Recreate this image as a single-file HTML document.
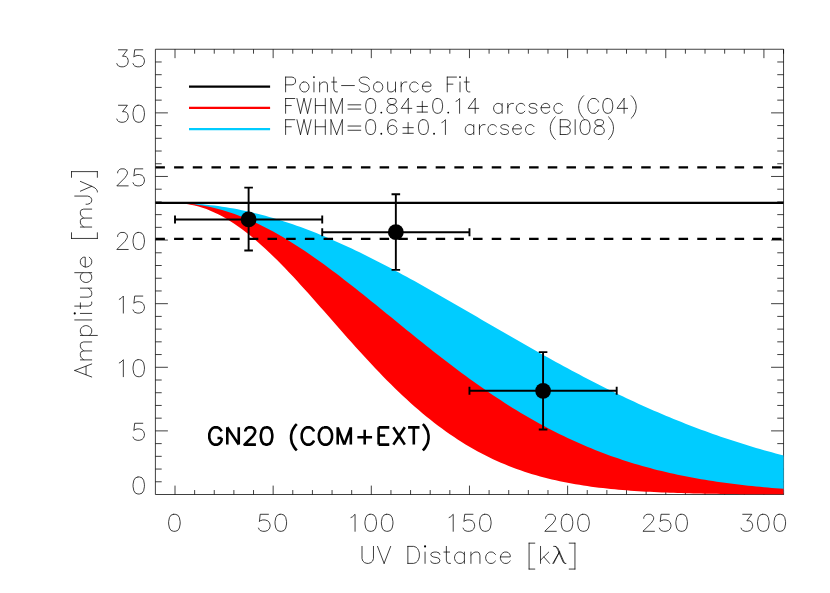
<!DOCTYPE html>
<html><head><meta charset="utf-8"><title>GN20 UV amplitude</title>
<style>html,body{margin:0;padding:0;background:#fff;font-family:"Liberation Sans",sans-serif}svg{display:block}</style></head>
<body>
<svg width="830" height="593" viewBox="0 0 830 593">
<rect width="830" height="593" fill="#fff"/>
<path d="M155.4 49.25H783.55V494.5H155.4ZM175 494.5v-8.9M175 49.25v8.9M194.63 494.5v-4.45M194.63 49.25v4.45M214.26 494.5v-4.45M214.26 49.25v4.45M233.89 494.5v-4.45M233.89 49.25v4.45M253.52 494.5v-4.45M253.52 49.25v4.45M273.15 494.5v-8.9M273.15 49.25v8.9M292.78 494.5v-4.45M292.78 49.25v4.45M312.41 494.5v-4.45M312.41 49.25v4.45M332.05 494.5v-4.45M332.05 49.25v4.45M351.68 494.5v-4.45M351.68 49.25v4.45M371.31 494.5v-8.9M371.31 49.25v8.9M390.94 494.5v-4.45M390.94 49.25v4.45M410.57 494.5v-4.45M410.57 49.25v4.45M430.2 494.5v-4.45M430.2 49.25v4.45M449.83 494.5v-4.45M449.83 49.25v4.45M469.46 494.5v-8.9M469.46 49.25v8.9M489.09 494.5v-4.45M489.09 49.25v4.45M508.72 494.5v-4.45M508.72 49.25v4.45M528.35 494.5v-4.45M528.35 49.25v4.45M547.98 494.5v-4.45M547.98 49.25v4.45M567.61 494.5v-8.9M567.61 49.25v8.9M587.24 494.5v-4.45M587.24 49.25v4.45M606.87 494.5v-4.45M606.87 49.25v4.45M626.5 494.5v-4.45M626.5 49.25v4.45M646.14 494.5v-4.45M646.14 49.25v4.45M665.77 494.5v-8.9M665.77 49.25v8.9M685.4 494.5v-4.45M685.4 49.25v4.45M705.03 494.5v-4.45M705.03 49.25v4.45M724.66 494.5v-4.45M724.66 49.25v4.45M744.29 494.5v-4.45M744.29 49.25v4.45M763.92 494.5v-8.9M763.92 49.25v8.9M783.55 494.5v-4.45M783.55 49.25v4.45M155.4 481.78h6.3M783.55 481.78h-6.3M155.4 469.06h6.3M783.55 469.06h-6.3M155.4 456.34h6.3M783.55 456.34h-6.3M155.4 443.61h6.3M783.55 443.61h-6.3M155.4 430.89h12.5M783.55 430.89h-12.5M155.4 418.17h6.3M783.55 418.17h-6.3M155.4 405.45h6.3M783.55 405.45h-6.3M155.4 392.73h6.3M783.55 392.73h-6.3M155.4 380.01h6.3M783.55 380.01h-6.3M155.4 367.29h12.5M783.55 367.29h-12.5M155.4 354.56h6.3M783.55 354.56h-6.3M155.4 341.84h6.3M783.55 341.84h-6.3M155.4 329.12h6.3M783.55 329.12h-6.3M155.4 316.4h6.3M783.55 316.4h-6.3M155.4 303.68h12.5M783.55 303.68h-12.5M155.4 290.96h6.3M783.55 290.96h-6.3M155.4 278.24h6.3M783.55 278.24h-6.3M155.4 265.51h6.3M783.55 265.51h-6.3M155.4 252.79h6.3M783.55 252.79h-6.3M155.4 240.07h12.5M783.55 240.07h-12.5M155.4 227.35h6.3M783.55 227.35h-6.3M155.4 214.63h6.3M783.55 214.63h-6.3M155.4 201.91h6.3M783.55 201.91h-6.3M155.4 189.19h6.3M783.55 189.19h-6.3M155.4 176.46h12.5M783.55 176.46h-12.5M155.4 163.74h6.3M783.55 163.74h-6.3M155.4 151.02h6.3M783.55 151.02h-6.3M155.4 138.3h6.3M783.55 138.3h-6.3M155.4 125.58h6.3M783.55 125.58h-6.3M155.4 112.86h12.5M783.55 112.86h-12.5M155.4 100.14h6.3M783.55 100.14h-6.3M155.4 87.41h6.3M783.55 87.41h-6.3M155.4 74.69h6.3M783.55 74.69h-6.3M155.4 61.97h6.3M783.55 61.97h-6.3" fill="none" stroke="#000" stroke-width="0.75" stroke-linecap="butt"/>
<path d="M175 203.18L178.93 203.2L182.85 203.28L186.78 203.4L190.7 203.57L194.63 203.79L198.56 204.06L202.48 204.37L206.41 204.74L210.34 205.15L214.26 205.61L218.19 206.11L222.11 206.67L226.04 207.27L229.97 207.92L233.89 208.61L237.82 209.35L241.74 210.14L245.67 210.97L249.6 211.85L253.52 212.77L257.45 213.73L261.37 214.74L265.3 215.79L269.23 216.89L273.15 218.02L277.08 219.2L281.01 220.42L284.93 221.68L288.86 222.97L292.78 224.31L296.71 225.69L300.64 227.1L304.56 228.55L308.49 230.04L312.41 231.56L316.34 233.12L320.27 234.71L324.19 236.33L328.12 237.99L332.05 239.68L335.97 241.4L339.9 243.15L343.82 244.93L347.75 246.74L351.68 248.58L355.6 250.45L359.53 252.34L363.45 254.26L367.38 256.2L371.31 258.16L375.23 260.15L379.16 262.16L383.08 264.2L387.01 266.25L390.94 268.32L394.86 270.41L398.79 272.52L402.72 274.65L406.64 276.79L410.57 278.94L414.49 281.12L418.42 283.3L422.35 285.5L426.27 287.71L430.2 289.93L434.12 292.16L438.05 294.4L441.98 296.64L445.9 298.9L449.83 301.16L453.76 303.43L457.68 305.7L461.61 307.98L465.53 310.26L469.46 312.54L473.39 314.82L477.31 317.11L481.24 319.4L485.16 321.68L489.09 323.96L493.02 326.25L496.94 328.53L500.87 330.8L504.79 333.07L508.72 335.34L512.65 337.6L516.57 339.85L520.5 342.1L524.43 344.34L528.35 346.57L532.28 348.8L536.2 351.01L540.13 353.22L544.06 355.41L547.98 357.59L551.91 359.76L555.83 361.92L559.76 364.07L563.69 366.2L567.61 368.32L571.54 370.42L575.47 372.51L579.39 374.59L583.32 376.64L587.24 378.69L591.17 380.71L595.1 382.72L599.02 384.72L602.95 386.69L606.87 388.65L610.8 390.59L614.73 392.51L618.65 394.41L622.58 396.29L626.5 398.16L630.43 400L634.36 401.83L638.28 403.63L642.21 405.42L646.14 407.18L650.06 408.92L653.99 410.64L657.91 412.35L661.84 414.03L665.77 415.69L669.69 417.32L673.62 418.94L677.54 420.53L681.47 422.11L685.4 423.66L689.32 425.19L693.25 426.7L697.18 428.19L701.1 429.65L705.03 431.09L708.95 432.52L712.88 433.92L716.81 435.29L720.73 436.65L724.66 437.98L728.58 439.3L732.51 440.59L736.44 441.86L740.36 443.11L744.29 444.34L748.21 445.54L752.14 446.73L756.07 447.89L759.99 449.04L763.92 450.16L767.85 451.26L771.77 452.35L775.7 453.41L779.62 454.45L783.55 455.47L783.55 493.5L779.62 493.42L775.7 493.34L771.77 493.26L767.85 493.16L763.92 493.07L759.99 492.96L756.07 492.85L752.14 492.73L748.21 492.6L744.29 492.47L740.36 492.32L736.44 492.17L732.51 492.01L728.58 491.84L724.66 491.65L720.73 491.46L716.81 491.25L712.88 491.04L708.95 490.81L705.03 490.56L701.1 490.3L697.18 490.03L693.25 489.74L689.32 489.44L685.4 489.12L681.47 488.78L677.54 488.42L673.62 488.04L669.69 487.64L665.77 487.22L661.84 486.78L657.91 486.32L653.99 485.83L650.06 485.32L646.14 484.78L642.21 484.22L638.28 483.63L634.36 483.01L630.43 482.36L626.5 481.68L622.58 480.96L618.65 480.22L614.73 479.44L610.8 478.62L606.87 477.77L602.95 476.88L599.02 475.96L595.1 474.99L591.17 473.99L587.24 472.94L583.32 471.85L579.39 470.71L575.47 469.53L571.54 468.31L567.61 467.03L563.69 465.71L559.76 464.34L555.83 462.92L551.91 461.45L547.98 459.92L544.06 458.34L540.13 456.71L536.2 455.02L532.28 453.28L528.35 451.48L524.43 449.62L520.5 447.71L516.57 445.73L512.65 443.7L508.72 441.61L504.79 439.45L500.87 437.24L496.94 434.96L493.02 432.63L489.09 430.23L485.16 427.77L481.24 425.25L477.31 422.67L473.39 420.03L469.46 417.32L465.53 414.56L461.61 411.74L457.68 408.85L453.76 405.91L449.83 402.91L445.9 399.86L441.98 396.74L438.05 393.58L434.12 390.36L430.2 387.08L426.27 383.76L422.35 380.39L418.42 376.97L414.49 373.51L410.57 370L406.64 366.45L402.72 362.87L398.79 359.24L394.86 355.58L390.94 351.89L387.01 348.18L383.08 344.43L379.16 340.66L375.23 336.88L371.31 333.07L367.38 329.25L363.45 325.43L359.53 321.59L355.6 317.75L351.68 313.91L347.75 310.07L343.82 306.25L339.9 302.43L335.97 298.63L332.05 294.85L328.12 291.09L324.19 287.35L320.27 283.65L316.34 279.99L312.41 276.36L308.49 272.77L304.56 269.24L300.64 265.75L296.71 262.33L292.78 258.96L288.86 255.65L284.93 252.42L281.01 249.25L277.08 246.16L273.15 243.15L269.23 240.23L265.3 237.39L261.37 234.64L257.45 231.99L253.52 229.44L249.6 226.98L245.67 224.64L241.74 222.4L237.82 220.27L233.89 218.25L229.97 216.36L226.04 214.58L222.11 212.92L218.19 211.39L214.26 209.98L210.34 208.7L206.41 207.55L202.48 206.53L198.56 205.65L194.63 204.89L190.7 204.28L186.78 203.8L182.85 203.45L178.93 203.25L175 203.18Z" fill="#00ccff"/>
<path d="M175 203.18L178.93 203.23L182.85 203.37L186.78 203.61L190.7 203.94L194.63 204.37L198.56 204.89L202.48 205.51L206.41 206.22L210.34 207.02L214.26 207.92L218.19 208.9L222.11 209.98L226.04 211.14L229.97 212.39L233.89 213.73L237.82 215.16L241.74 216.66L245.67 218.25L249.6 219.93L253.52 221.68L257.45 223.5L261.37 225.41L265.3 227.39L269.23 229.44L273.15 231.56L277.08 233.75L281.01 236.01L284.93 238.33L288.86 240.71L292.78 243.15L296.71 245.66L300.64 248.21L304.56 250.82L308.49 253.49L312.41 256.2L316.34 258.96L320.27 261.76L324.19 264.61L328.12 267.49L332.05 270.41L335.97 273.37L339.9 276.36L343.82 279.38L347.75 282.43L351.68 285.5L355.6 288.59L359.53 291.71L363.45 294.85L367.38 298L371.31 301.16L375.23 304.34L379.16 307.52L383.08 310.71L387.01 313.91L390.94 317.11L394.86 320.31L398.79 323.51L402.72 326.7L406.64 329.89L410.57 333.07L414.49 336.24L418.42 339.4L422.35 342.55L426.27 345.68L430.2 348.8L434.12 351.89L438.05 354.97L441.98 358.03L445.9 361.06L449.83 364.07L453.76 367.05L457.68 370L461.61 372.93L465.53 375.82L469.46 378.69L473.39 381.52L477.31 384.32L481.24 387.08L485.16 389.81L489.09 392.51L493.02 395.17L496.94 397.79L500.87 400.37L504.79 402.91L508.72 405.42L512.65 407.88L516.57 410.3L520.5 412.68L524.43 415.02L528.35 417.32L532.28 419.58L536.2 421.8L540.13 423.97L544.06 426.1L547.98 428.19L551.91 430.23L555.83 432.23L559.76 434.19L563.69 436.11L567.61 437.98L571.54 439.82L575.47 441.61L579.39 443.36L583.32 445.06L587.24 446.73L591.17 448.35L595.1 449.94L599.02 451.48L602.95 452.99L606.87 454.45L610.8 455.88L614.73 457.26L618.65 458.61L622.58 459.92L626.5 461.2L630.43 462.44L634.36 463.64L638.28 464.8L642.21 465.94L646.14 467.03L650.06 468.1L653.99 469.13L657.91 470.13L661.84 471.1L665.77 472.03L669.69 472.94L673.62 473.81L677.54 474.66L681.47 475.48L685.4 476.27L689.32 477.04L693.25 477.77L697.18 478.48L701.1 479.17L705.03 479.83L708.95 480.47L712.88 481.08L716.81 481.68L720.73 482.24L724.66 482.79L728.58 483.32L732.51 483.83L736.44 484.31L740.36 484.78L744.29 485.23L748.21 485.66L752.14 486.08L756.07 486.48L759.99 486.86L763.92 487.22L767.85 487.57L771.77 487.91L775.7 488.23L779.62 488.54L783.55 488.83L783.55 494.37L779.62 494.36L775.7 494.34L771.77 494.33L767.85 494.31L763.92 494.29L759.99 494.27L756.07 494.24L752.14 494.22L748.21 494.19L744.29 494.16L740.36 494.13L736.44 494.09L732.51 494.05L728.58 494.01L724.66 493.96L720.73 493.91L716.81 493.86L712.88 493.8L708.95 493.74L705.03 493.67L701.1 493.59L697.18 493.51L693.25 493.42L689.32 493.33L685.4 493.23L681.47 493.12L677.54 493L673.62 492.87L669.69 492.73L665.77 492.58L661.84 492.42L657.91 492.25L653.99 492.06L650.06 491.87L646.14 491.65L642.21 491.43L638.28 491.18L634.36 490.92L630.43 490.65L626.5 490.35L622.58 490.03L618.65 489.69L614.73 489.33L610.8 488.95L606.87 488.54L602.95 488.1L599.02 487.64L595.1 487.15L591.17 486.63L587.24 486.08L583.32 485.49L579.39 484.87L575.47 484.22L571.54 483.53L567.61 482.79L563.69 482.02L559.76 481.2L555.83 480.34L551.91 479.44L547.98 478.48L544.06 477.48L540.13 476.43L536.2 475.32L532.28 474.16L528.35 472.94L524.43 471.66L520.5 470.32L516.57 468.93L512.65 467.46L508.72 465.94L504.79 464.34L500.87 462.68L496.94 460.95L493.02 459.14L489.09 457.26L485.16 455.31L481.24 453.28L477.31 451.18L473.39 448.99L469.46 446.73L465.53 444.39L461.61 441.96L457.68 439.45L453.76 436.86L449.83 434.19L445.9 431.44L441.98 428.6L438.05 425.68L434.12 422.67L430.2 419.58L426.27 416.41L422.35 413.16L418.42 409.82L414.49 406.41L410.57 402.91L406.64 399.34L402.72 395.69L398.79 391.97L394.86 388.18L390.94 384.32L387.01 380.39L383.08 376.4L379.16 372.34L375.23 368.23L371.31 364.07L367.38 359.85L363.45 355.58L359.53 351.28L355.6 346.93L351.68 342.55L347.75 338.14L343.82 333.71L339.9 329.25L335.97 324.79L332.05 320.31L328.12 315.83L324.19 311.35L320.27 306.88L316.34 302.43L312.41 298L308.49 293.59L304.56 289.22L300.64 284.88L296.71 280.59L292.78 276.36L288.86 272.18L284.93 268.07L281.01 264.03L277.08 260.07L273.15 256.2L269.23 252.42L265.3 248.73L261.37 245.15L257.45 241.68L253.52 238.33L249.6 235.09L245.67 231.99L241.74 229.02L237.82 226.19L233.89 223.5L229.97 220.97L226.04 218.58L222.11 216.36L218.19 214.29L214.26 212.39L210.34 210.67L206.41 209.11L202.48 207.73L198.56 206.53L194.63 205.51L190.7 204.67L186.78 204.02L182.85 203.55L178.93 203.27L175 203.18Z" fill="#ff0000"/>
<path d="M155.4 202.92H783.55" stroke="#000" stroke-width="2.25" fill="none"/>
<path d="M155.4 167.43H783.55" stroke="#000" stroke-width="2.25" stroke-dasharray="9.5 9.185" fill="none"/>
<path d="M155.4 238.8H783.55" stroke="#000" stroke-width="2.25" stroke-dasharray="9.5 9.185" fill="none"/>
<path d="M175 219.46H322.23M175 215.46v8M322.23 215.46v8M248.61 250.5V187.66M244.31 250.5h8.6M244.31 187.66h8.6" stroke="#000" stroke-width="1.9" fill="none"/>
<circle cx="248.61" cy="219.46" r="7.9" fill="#000"/>
<path d="M322.23 232.18H469.46M322.23 228.18v8M469.46 228.18v8M395.84 269.84V194.27M391.54 269.84h8.6M391.54 194.27h8.6" stroke="#000" stroke-width="1.9" fill="none"/>
<circle cx="395.84" cy="232.18" r="7.9" fill="#000"/>
<path d="M469.46 390.82H616.69M469.46 386.82v8M616.69 386.82v8M543.07 429.49V352.15M538.77 429.49h8.6M538.77 352.15h8.6" stroke="#000" stroke-width="1.9" fill="none"/>
<circle cx="543.07" cy="390.82" r="7.9" fill="#000"/>
<path d="M189 86.6H270.1" stroke="#000" stroke-width="2.2" fill="none"/>
<path d="M189 107.9H270.1" stroke="#ff0000" stroke-width="2.2" fill="none"/>
<path d="M189 129.2H270.1" stroke="#00ccff" stroke-width="2.2" fill="none"/>
<path d="M285.6 77.09L285.6 91.9M285.6 77.09L291.98 77.09L294.11 77.8L294.82 78.51L295.53 79.92L295.53 82.03L294.82 83.44L294.11 84.15L291.98 84.85L285.6 84.85M303.33 82.03L301.91 82.74L300.49 84.15L299.78 86.26L299.78 87.67L300.49 89.79L301.91 91.2L303.33 91.9L305.45 91.9L306.87 91.2L308.29 89.79L309 87.67L309 86.26L308.29 84.15L306.87 82.74L305.45 82.03L303.33 82.03M313.96 82.03L313.96 91.9M319.63 82.03L319.63 91.9M319.63 84.85L321.76 82.74L323.18 82.03L325.3 82.03L326.72 82.74L327.43 84.85L327.43 91.9M333.81 77.09L333.81 89.08L334.52 91.2L335.94 91.9L337.36 91.9M331.69 82.03L336.65 82.03M341.61 85.56L354.37 85.56M369.26 79.21L367.84 77.8L365.72 77.09L362.88 77.09L360.75 77.8L359.34 79.21L359.34 80.62L360.05 82.03L360.75 82.74L362.17 83.44L366.43 84.85L367.84 85.56L368.55 86.26L369.26 87.67L369.26 89.79L367.84 91.2L365.72 91.9L362.88 91.9L360.75 91.2L359.34 89.79M377.06 82.03L375.64 82.74L374.23 84.15L373.52 86.26L373.52 87.67L374.23 89.79L375.64 91.2L377.06 91.9L379.19 91.9L380.61 91.2L382.02 89.79L382.73 87.67L382.73 86.26L382.02 84.15L380.61 82.74L379.19 82.03L377.06 82.03M387.7 82.03L387.7 89.08L388.41 91.2L389.82 91.9L391.95 91.9L393.37 91.2L395.5 89.08M395.5 82.03L395.5 91.9M401.17 82.03L401.17 91.9M401.17 86.26L401.88 84.15L403.29 82.74L404.71 82.03L406.84 82.03M418.18 84.15L416.76 82.74L415.35 82.03L413.22 82.03L411.8 82.74L410.38 84.15L409.68 86.26L409.68 87.67L410.38 89.79L411.8 91.2L413.22 91.9L415.35 91.9L416.76 91.2L418.18 89.79M422.44 86.26L430.95 86.26L430.95 84.85L430.24 83.44L429.53 82.74L428.11 82.03L425.98 82.03L424.56 82.74L423.15 84.15L422.44 86.26L422.44 87.67L423.15 89.79L424.56 91.2L425.98 91.9L428.11 91.9L429.53 91.2L430.95 89.79M447.25 77.09L447.25 91.9M447.25 77.09L456.47 77.09M447.25 84.15L452.92 84.15M460.01 82.03L460.01 91.9M466.39 77.09L466.39 89.08L467.1 91.2L468.52 91.9L469.94 91.9M464.27 82.03L469.23 82.03M285.6 98.5L285.6 113.3M285.6 98.5L294.82 98.5M285.6 105.55L291.27 105.55M296.94 98.5L300.49 113.3M304.03 98.5L300.49 113.3M304.03 98.5L307.58 113.3M311.12 98.5L307.58 113.3M315.38 98.5L315.38 113.3M325.3 98.5L325.3 113.3M315.38 105.55L325.3 105.55M330.98 98.5L330.98 113.3M330.98 98.5L336.65 113.3M342.32 98.5L336.65 113.3M342.32 98.5L342.32 113.3M347.99 104.84L360.75 104.84M347.99 109.07L360.75 109.07M369.97 98.5L367.84 99.2L366.43 101.31L365.72 104.84L365.72 106.95L366.43 110.48L367.84 112.59L369.97 113.3L371.39 113.3L373.52 112.59L374.93 110.48L375.64 106.95L375.64 104.84L374.93 101.31L373.52 99.2L371.39 98.5L369.97 98.5M390.53 98.5L388.41 99.2L387.7 100.61L387.7 102.02L388.41 103.43L389.82 104.13L392.66 104.84L394.79 105.55L396.2 106.95L396.91 108.36L396.91 110.48L396.2 111.89L395.5 112.59L393.37 113.3L390.53 113.3L388.41 112.59L387.7 111.89L386.99 110.48L386.99 108.36L387.7 106.95L389.11 105.55L391.24 104.84L394.08 104.13L395.5 103.43L396.2 102.02L396.2 100.61L395.5 99.2L393.37 98.5L390.53 98.5M408.26 98.5L401.17 108.36L411.8 108.36M408.26 98.5L408.26 113.3M422.3 101.31L422.3 112.1M417.12 106.46L427.47 106.46M417.12 112.1L427.47 112.1M436.9 98.5L434.77 99.2L433.36 101.31L432.65 104.84L432.65 106.95L433.36 110.48L434.77 112.59L436.9 113.3L438.32 113.3L440.45 112.59L441.86 110.48L442.57 106.95L442.57 104.84L441.86 101.31L440.45 99.2L438.32 98.5L436.9 98.5M456.04 101.31L457.46 100.61L459.59 98.5L459.59 113.3M475.19 98.5L468.1 108.36L478.73 108.36M475.19 98.5L475.19 113.3M502.13 103.43L502.13 113.3M502.13 105.55L500.71 104.13L499.29 103.43L497.17 103.43L495.75 104.13L494.33 105.55L493.62 107.66L493.62 109.07L494.33 111.19L495.75 112.59L497.17 113.3L499.29 113.3L500.71 112.59L502.13 111.19M507.8 103.43L507.8 113.3M507.8 107.66L508.51 105.55L509.93 104.13L511.35 103.43L513.47 103.43M524.82 105.55L523.4 104.13L521.98 103.43L519.85 103.43L518.44 104.13L517.02 105.55L516.31 107.66L516.31 109.07L517.02 111.19L518.44 112.59L519.85 113.3L521.98 113.3L523.4 112.59L524.82 111.19M536.87 105.55L536.16 104.13L534.03 103.43L531.91 103.43L529.78 104.13L529.07 105.55L529.78 106.95L531.2 107.66L534.74 108.36L536.16 109.07L536.87 110.48L536.87 111.19L536.16 112.59L534.03 113.3L531.91 113.3L529.78 112.59L529.07 111.19M541.12 107.66L549.63 107.66L549.63 106.25L548.92 104.84L548.21 104.13L546.8 103.43L544.67 103.43L543.25 104.13L541.83 105.55L541.12 107.66L541.12 109.07L541.83 111.19L543.25 112.59L544.67 113.3L546.8 113.3L548.21 112.59L549.63 111.19M562.39 105.55L560.98 104.13L559.56 103.43L557.43 103.43L556.01 104.13L554.59 105.55L553.89 107.66L553.89 109.07L554.59 111.19L556.01 112.59L557.43 113.3L559.56 113.3L560.98 112.59L562.39 111.19M583.66 95.67L582.25 97.08L580.83 99.2L579.41 102.02L578.7 105.55L578.7 108.36L579.41 111.89L580.83 114.71L582.25 116.83L583.66 118.23M598.55 102.02L597.84 100.61L596.43 99.2L595.01 98.5L592.17 98.5L590.75 99.2L589.34 100.61L588.63 102.02L587.92 104.13L587.92 107.66L588.63 109.77L589.34 111.19L590.75 112.59L592.17 113.3L595.01 113.3L596.43 112.59L597.84 111.19L598.55 109.77M607.06 98.5L604.93 99.2L603.52 101.31L602.81 104.84L602.81 106.95L603.52 110.48L604.93 112.59L607.06 113.3L608.48 113.3L610.61 112.59L612.02 110.48L612.73 106.95L612.73 104.84L612.02 101.31L610.61 99.2L608.48 98.5L607.06 98.5M624.08 98.5L616.99 108.36L627.62 108.36M624.08 98.5L624.08 113.3M631.17 95.67L632.58 97.08L634 99.2L635.42 102.02L636.13 105.55L636.13 108.36L635.42 111.89L634 114.71L632.58 116.83L631.17 118.23M285.6 119.69L285.6 134.5M285.6 119.69L294.82 119.69M285.6 126.75L291.27 126.75M296.94 119.69L300.49 134.5M304.03 119.69L300.49 134.5M304.03 119.69L307.58 134.5M311.12 119.69L307.58 134.5M315.38 119.69L315.38 134.5M325.3 119.69L325.3 134.5M315.38 126.75L325.3 126.75M330.98 119.69L330.98 134.5M330.98 119.69L336.65 134.5M342.32 119.69L336.65 134.5M342.32 119.69L342.32 134.5M347.99 126.04L360.75 126.04M347.99 130.27L360.75 130.27M369.97 119.69L367.84 120.4L366.43 122.52L365.72 126.04L365.72 128.16L366.43 131.68L367.84 133.79L369.97 134.5L371.39 134.5L373.52 133.79L374.93 131.68L375.64 128.16L375.64 126.04L374.93 122.52L373.52 120.4L371.39 119.69L369.97 119.69M396.2 121.81L395.5 120.4L393.37 119.69L391.95 119.69L389.82 120.4L388.41 122.52L387.7 126.04L387.7 129.56L388.41 132.38L389.82 133.79L391.95 134.5L392.66 134.5L394.79 133.79L396.2 132.38L396.91 130.27L396.91 129.56L396.2 127.45L394.79 126.04L392.66 125.34L391.95 125.34L389.82 126.04L388.41 127.45L387.7 129.56M408.12 122.52L408.12 133.3M402.94 127.66L413.29 127.66M402.94 133.3L413.29 133.3M422.72 119.69L420.59 120.4L419.18 122.52L418.47 126.04L418.47 128.16L419.18 131.68L420.59 133.79L422.72 134.5L424.14 134.5L426.27 133.79L427.68 131.68L428.39 128.16L428.39 126.04L427.68 122.52L426.27 120.4L424.14 119.69L422.72 119.69M441.86 122.52L443.28 121.81L445.41 119.69L445.41 134.5M473.77 124.63L473.77 134.5M473.77 126.75L472.35 125.34L470.93 124.63L468.81 124.63L467.39 125.34L465.97 126.75L465.26 128.86L465.26 130.27L465.97 132.38L467.39 133.79L468.81 134.5L470.93 134.5L472.35 133.79L473.77 132.38M479.44 124.63L479.44 134.5M479.44 128.86L480.15 126.75L481.57 125.34L482.99 124.63L485.11 124.63M496.46 126.75L495.04 125.34L493.62 124.63L491.49 124.63L490.08 125.34L488.66 126.75L487.95 128.86L487.95 130.27L488.66 132.38L490.08 133.79L491.49 134.5L493.62 134.5L495.04 133.79L496.46 132.38M508.51 126.75L507.8 125.34L505.67 124.63L503.55 124.63L501.42 125.34L500.71 126.75L501.42 128.16L502.84 128.86L506.38 129.56L507.8 130.27L508.51 131.68L508.51 132.38L507.8 133.79L505.67 134.5L503.55 134.5L501.42 133.79L500.71 132.38M512.76 128.86L521.27 128.86L521.27 127.45L520.56 126.04L519.85 125.34L518.44 124.63L516.31 124.63L514.89 125.34L513.47 126.75L512.76 128.86L512.76 130.27L513.47 132.38L514.89 133.79L516.31 134.5L518.44 134.5L519.85 133.79L521.27 132.38M534.03 126.75L532.62 125.34L531.2 124.63L529.07 124.63L527.65 125.34L526.23 126.75L525.53 128.86L525.53 130.27L526.23 132.38L527.65 133.79L529.07 134.5L531.2 134.5L532.62 133.79L534.03 132.38M555.3 116.88L553.89 118.28L552.47 120.4L551.05 123.22L550.34 126.75L550.34 129.56L551.05 133.09L552.47 135.91L553.89 138.03L555.3 139.44M560.27 119.69L560.27 134.5M560.27 119.69L566.65 119.69L568.77 120.4L569.48 121.11L570.19 122.52L570.19 123.92L569.48 125.34L568.77 126.04L566.65 126.75M560.27 126.75L566.65 126.75L568.77 127.45L569.48 128.16L570.19 129.56L570.19 131.68L569.48 133.09L568.77 133.79L566.65 134.5L560.27 134.5M575.16 119.69L575.16 134.5M584.37 119.69L582.25 120.4L580.83 122.52L580.12 126.04L580.12 128.16L580.83 131.68L582.25 133.79L584.37 134.5L585.79 134.5L587.92 133.79L589.34 131.68L590.04 128.16L590.04 126.04L589.34 122.52L587.92 120.4L585.79 119.69L584.37 119.69M597.84 119.69L595.72 120.4L595.01 121.81L595.01 123.22L595.72 124.63L597.13 125.34L599.97 126.04L602.1 126.75L603.52 128.16L604.22 129.56L604.22 131.68L603.52 133.09L602.81 133.79L600.68 134.5L597.84 134.5L595.72 133.79L595.01 133.09L594.3 131.68L594.3 129.56L595.01 128.16L596.43 126.75L598.55 126.04L601.39 125.34L602.81 124.63L603.52 123.22L603.52 121.81L602.81 120.4L600.68 119.69L597.84 119.69M608.48 116.88L609.9 118.28L611.31 120.4L612.73 123.22L613.44 126.75L613.44 129.56L612.73 133.09L611.31 135.91L609.9 138.03L608.48 139.44M173.58 514.29L171.11 515.1L169.46 517.53L168.64 521.58L168.64 524.01L169.46 528.06L171.11 530.49L173.58 531.3L175.22 531.3L177.69 530.49L179.34 528.06L180.16 524.01L180.16 521.58L179.34 517.53L177.69 515.1L175.22 514.29L173.58 514.29M268.44 514.29L260.2 514.29L259.38 521.58L260.2 520.77L262.67 519.96L265.14 519.96L267.61 520.77L269.26 522.39L270.08 524.82L270.08 526.44L269.26 528.87L267.61 530.49L265.14 531.3L262.67 531.3L260.2 530.49L259.38 529.68L258.55 528.06M279.96 514.29L277.49 515.1L275.85 517.53L275.02 521.58L275.02 524.01L275.85 528.06L277.49 530.49L279.96 531.3L281.61 531.3L284.08 530.49L285.73 528.06L286.55 524.01L286.55 521.58L285.73 517.53L284.08 515.1L281.61 514.29L279.96 514.29M350.94 517.53L352.59 516.72L355.06 514.29L355.06 531.3M369.88 514.29L367.41 515.1L365.77 517.53L364.94 521.58L364.94 524.01L365.77 528.06L367.41 530.49L369.88 531.3L371.53 531.3L374 530.49L375.65 528.06L376.47 524.01L376.47 521.58L375.65 517.53L374 515.1L371.53 514.29L369.88 514.29M386.35 514.29L383.88 515.1L382.24 517.53L381.41 521.58L381.41 524.01L382.24 528.06L383.88 530.49L386.35 531.3L388 531.3L390.47 530.49L392.12 528.06L392.94 524.01L392.94 521.58L392.12 517.53L390.47 515.1L388 514.29L386.35 514.29M449.1 517.53L450.74 516.72L453.21 514.29L453.21 531.3M472.98 514.29L464.74 514.29L463.92 521.58L464.74 520.77L467.21 519.96L469.68 519.96L472.15 520.77L473.8 522.39L474.62 524.82L474.62 526.44L473.8 528.87L472.15 530.49L469.68 531.3L467.21 531.3L464.74 530.49L463.92 529.68L463.1 528.06M484.51 514.29L482.04 515.1L480.39 517.53L479.57 521.58L479.57 524.01L480.39 528.06L482.04 530.49L484.51 531.3L486.15 531.3L488.62 530.49L490.27 528.06L491.09 524.01L491.09 521.58L490.27 517.53L488.62 515.1L486.15 514.29L484.51 514.29M545.6 518.34L545.6 517.53L546.43 515.91L547.25 515.1L548.9 514.29L552.19 514.29L553.84 515.1L554.66 515.91L555.48 517.53L555.48 519.15L554.66 520.77L553.01 523.2L544.78 531.3L556.31 531.3M566.19 514.29L563.72 515.1L562.07 517.53L561.25 521.58L561.25 524.01L562.07 528.06L563.72 530.49L566.19 531.3L567.84 531.3L570.31 530.49L571.95 528.06L572.78 524.01L572.78 521.58L571.95 517.53L570.31 515.1L567.84 514.29L566.19 514.29M582.66 514.29L580.19 515.1L578.54 517.53L577.72 521.58L577.72 524.01L578.54 528.06L580.19 530.49L582.66 531.3L584.31 531.3L586.78 530.49L588.42 528.06L589.25 524.01L589.25 521.58L588.42 517.53L586.78 515.1L584.31 514.29L582.66 514.29M643.76 518.34L643.76 517.53L644.58 515.91L645.4 515.1L647.05 514.29L650.34 514.29L651.99 515.1L652.81 515.91L653.64 517.53L653.64 519.15L652.81 520.77L651.17 523.2L642.93 531.3L654.46 531.3M669.28 514.29L661.05 514.29L660.23 521.58L661.05 520.77L663.52 519.96L665.99 519.96L668.46 520.77L670.11 522.39L670.93 524.82L670.93 526.44L670.11 528.87L668.46 530.49L665.99 531.3L663.52 531.3L661.05 530.49L660.23 529.68L659.4 528.06M680.81 514.29L678.34 515.1L676.7 517.53L675.87 521.58L675.87 524.01L676.7 528.06L678.34 530.49L680.81 531.3L682.46 531.3L684.93 530.49L686.58 528.06L687.4 524.01L687.4 521.58L686.58 517.53L684.93 515.1L682.46 514.29L680.81 514.29M742.73 514.29L751.79 514.29L746.85 520.77L749.32 520.77L750.97 521.58L751.79 522.39L752.61 524.82L752.61 526.44L751.79 528.87L750.14 530.49L747.67 531.3L745.2 531.3L742.73 530.49L741.91 529.68L741.08 528.06M762.5 514.29L760.03 515.1L758.38 517.53L757.55 521.58L757.55 524.01L758.38 528.06L760.03 530.49L762.5 531.3L764.14 531.3L766.61 530.49L768.26 528.06L769.08 524.01L769.08 521.58L768.26 517.53L766.61 515.1L764.14 514.29L762.5 514.29M778.97 514.29L776.5 515.1L774.85 517.53L774.02 521.58L774.02 524.01L774.85 528.06L776.5 530.49L778.97 531.3L780.61 531.3L783.08 530.49L784.73 528.06L785.55 524.01L785.55 521.58L784.73 517.53L783.08 515.1L780.61 514.29L778.97 514.29M137.93 476.99L135.5 477.8L133.87 480.23L133.06 484.28L133.06 486.71L133.87 490.76L135.5 493.19L137.93 494L139.55 494L141.98 493.19L143.61 490.76L144.42 486.71L144.42 484.28L143.61 480.23L141.98 477.8L139.55 476.99L137.93 476.99M142.79 423.28L134.69 423.28L133.87 430.57L134.69 429.76L137.12 428.95L139.55 428.95L141.98 429.76L143.61 431.38L144.42 433.81L144.42 435.43L143.61 437.86L141.98 439.48L139.55 440.29L137.12 440.29L134.69 439.48L133.87 438.67L133.06 437.05M119.28 362.92L120.9 362.11L123.33 359.68L123.33 376.69M137.93 359.68L135.5 360.49L133.87 362.92L133.06 366.97L133.06 369.4L133.87 373.45L135.5 375.88L137.93 376.69L139.55 376.69L141.98 375.88L143.61 373.45L144.42 369.4L144.42 366.97L143.61 362.92L141.98 360.49L139.55 359.68L137.93 359.68M119.28 299.31L120.9 298.5L123.33 296.07L123.33 313.08M142.79 296.07L134.69 296.07L133.87 303.36L134.69 302.55L137.12 301.74L139.55 301.74L141.98 302.55L143.61 304.17L144.42 306.6L144.42 308.22L143.61 310.65L141.98 312.27L139.55 313.08L137.12 313.08L134.69 312.27L133.87 311.46L133.06 309.84M117.65 236.51L117.65 235.7L118.46 234.08L119.28 233.27L120.9 232.46L124.14 232.46L125.76 233.27L126.57 234.08L127.39 235.7L127.39 237.32L126.57 238.94L124.95 241.37L116.84 249.47L128.2 249.47M137.93 232.46L135.5 233.27L133.87 235.7L133.06 239.75L133.06 242.18L133.87 246.23L135.5 248.66L137.93 249.47L139.55 249.47L141.98 248.66L143.61 246.23L144.42 242.18L144.42 239.75L143.61 235.7L141.98 233.27L139.55 232.46L137.93 232.46M117.65 172.9L117.65 172.09L118.46 170.47L119.28 169.66L120.9 168.85L124.14 168.85L125.76 169.66L126.57 170.47L127.39 172.09L127.39 173.71L126.57 175.33L124.95 177.76L116.84 185.86L128.2 185.86M142.79 168.85L134.69 168.85L133.87 176.14L134.69 175.33L137.12 174.52L139.55 174.52L141.98 175.33L143.61 176.95L144.42 179.38L144.42 181L143.61 183.43L141.98 185.05L139.55 185.86L137.12 185.86L134.69 185.05L133.87 184.24L133.06 182.62M118.46 105.25L127.39 105.25L122.52 111.73L124.95 111.73L126.57 112.54L127.39 113.35L128.2 115.78L128.2 117.4L127.39 119.83L125.76 121.45L123.33 122.26L120.9 122.26L118.46 121.45L117.65 120.64L116.84 119.02M137.93 105.25L135.5 106.06L133.87 108.49L133.06 112.54L133.06 114.97L133.87 119.02L135.5 121.45L137.93 122.26L139.55 122.26L141.98 121.45L143.61 119.02L144.42 114.97L144.42 112.54L143.61 108.49L141.98 106.06L139.55 105.25L137.93 105.25M118.46 49.79L127.39 49.79L122.52 56.27L124.95 56.27L126.57 57.08L127.39 57.89L128.2 60.32L128.2 61.94L127.39 64.37L125.76 65.99L123.33 66.8L120.9 66.8L118.46 65.99L117.65 65.18L116.84 63.56M142.79 49.79L134.69 49.79L133.87 57.08L134.69 56.27L137.12 55.46L139.55 55.46L141.98 56.27L143.61 57.89L144.42 60.32L144.42 61.94L143.61 64.37L141.98 65.99L139.55 66.8L137.12 66.8L134.69 65.99L133.87 65.18L133.06 63.56M362 546.39L362 558.54L362.82 560.97L364.46 562.59L366.91 563.4L368.55 563.4L371.01 562.59L372.65 560.97L373.47 558.54L373.47 546.39M377.56 546.39L384.11 563.4M390.67 546.39L384.11 563.4M407.86 546.39L407.86 563.4M407.86 546.39L413.6 546.39L416.05 547.2L417.69 548.82L418.51 550.44L419.33 552.87L419.33 556.92L418.51 559.35L417.69 560.97L416.05 562.59L413.6 563.4L407.86 563.4M425.06 552.06L425.06 563.4M439.81 554.49L438.99 552.87L436.53 552.06L434.07 552.06L431.62 552.87L430.8 554.49L431.62 556.11L433.25 556.92L437.35 557.73L438.99 558.54L439.81 560.16L439.81 560.97L438.99 562.59L436.53 563.4L434.07 563.4L431.62 562.59L430.8 560.97M446.36 546.39L446.36 560.16L447.18 562.59L448.81 563.4L450.45 563.4M443.9 552.06L449.63 552.06M464.38 552.06L464.38 563.4M464.38 554.49L462.74 552.87L461.1 552.06L458.64 552.06L457 552.87L455.37 554.49L454.55 556.92L454.55 558.54L455.37 560.97L457 562.59L458.64 563.4L461.1 563.4L462.74 562.59L464.38 560.97M470.93 552.06L470.93 563.4M470.93 555.3L473.38 552.87L475.02 552.06L477.48 552.06L479.12 552.87L479.94 555.3L479.94 563.4M495.5 554.49L493.86 552.87L492.22 552.06L489.76 552.06L488.13 552.87L486.49 554.49L485.67 556.92L485.67 558.54L486.49 560.97L488.13 562.59L489.76 563.4L492.22 563.4L493.86 562.59L495.5 560.97M500.41 556.92L510.24 556.92L510.24 555.3L509.42 553.68L508.6 552.87L506.96 552.06L504.51 552.06L502.87 552.87L501.23 554.49L500.41 556.92L500.41 558.54L501.23 560.97L502.87 562.59L504.51 563.4L506.96 563.4L508.6 562.59L510.24 560.97M529.08 543.15L529.08 569.07M529.08 543.15L534.81 543.15M529.08 569.07L534.81 569.07M540.54 546.39L540.54 563.4M548.73 552.06L540.54 560.16M543.82 556.92L549.55 563.4M553.65 546.39L555.28 546.39L556.92 547.2L557.74 548.01L558.56 549.63L563.47 560.97L564.29 562.59L565.11 563.4M555.28 546.39L556.92 548.01L557.74 549.63L562.65 560.97L563.47 562.59L565.11 563.4L565.93 563.4M559.38 552.06L552.83 563.4M559.38 552.06L553.65 563.4M574.94 543.15L574.94 569.07M569.21 543.15L574.94 543.15M569.21 569.07L574.94 569.07M74.73 370.48L91.7 377M74.73 370.48L91.7 363.96M86.04 374.56L86.04 366.4M80.39 359.88L91.7 359.88M83.62 359.88L81.2 357.44L80.39 355.81L80.39 353.37L81.2 351.74L83.62 350.92L91.7 350.92M83.62 350.92L81.2 348.48L80.39 346.85L80.39 344.4L81.2 342.77L83.62 341.95L91.7 341.95M80.39 335.44L97.36 335.44M82.81 335.44L81.2 333.81L80.39 332.18L80.39 329.73L81.2 328.1L82.81 326.47L85.24 325.65L86.85 325.65L89.28 326.47L90.89 328.1L91.7 329.73L91.7 332.18L90.89 333.81L89.28 335.44M74.73 319.95L91.7 319.95M80.39 313.43L91.7 313.43M74.73 306.1L88.47 306.1L90.89 305.28L91.7 303.65L91.7 302.02M80.39 308.54L80.39 302.84M80.39 297.13L88.47 297.13L90.89 296.31L91.7 294.69L91.7 292.24L90.89 290.61L88.47 288.17M80.39 288.17L91.7 288.17M74.73 272.68L91.7 272.68M82.81 272.68L81.2 274.31L80.39 275.94L80.39 278.38L81.2 280.01L82.81 281.64L85.24 282.46L86.85 282.46L89.28 281.64L90.89 280.01L91.7 278.38L91.7 275.94L90.89 274.31L89.28 272.68M85.24 266.98L85.24 257.19L83.62 257.19L82 258.01L81.2 258.82L80.39 260.46L80.39 262.9L81.2 264.53L82.81 266.16L85.24 266.98L86.85 266.98L89.28 266.16L90.89 264.53L91.7 262.9L91.7 260.46L90.89 258.82L89.28 257.19M71.5 238.45L97.36 238.45M71.5 238.45L71.5 232.75M97.36 238.45L97.36 232.75M80.39 227.04L91.7 227.04M83.62 227.04L81.2 224.59L80.39 222.97L80.39 220.52L81.2 218.89L83.62 218.08L91.7 218.08M83.62 218.08L81.2 215.63L80.39 214L80.39 211.56L81.2 209.93L83.62 209.11L91.7 209.11M74.73 196.07L87.66 196.07L90.08 196.89L90.89 197.7L91.7 199.33L91.7 200.96L90.89 202.59L90.08 203.41L87.66 204.22L86.04 204.22M80.39 191.18L91.7 186.29M80.39 181.4L91.7 186.29L94.93 187.92L96.55 189.55L97.36 191.18L97.36 192M71.5 171.62L97.36 171.62M71.5 177.33L71.5 171.62M97.36 177.33L97.36 171.62" fill="none" stroke="#000" stroke-width="0.76" stroke-linecap="round" stroke-linejoin="round"/>
<circle cx="313.96" cy="77.09" r="0.92" fill="#000"/><circle cx="460.01" cy="77.09" r="0.92" fill="#000"/><circle cx="381.31" cy="112.59" r="0.92" fill="#000"/><circle cx="448.24" cy="112.59" r="0.92" fill="#000"/><circle cx="381.31" cy="133.79" r="0.92" fill="#000"/><circle cx="434.06" cy="133.79" r="0.92" fill="#000"/><circle cx="425.06" cy="546.39" r="1.06" fill="#000"/><circle cx="74.73" cy="313.43" r="1.06" fill="#000"/>
<path d="M221.57 431.45L220.75 429.8L219.12 428.16L217.48 427.34L214.21 427.34L212.57 428.16L210.94 429.8L210.12 431.45L209.3 433.91L209.3 438.02L210.12 440.49L210.94 442.13L212.57 443.78L214.21 444.6L217.48 444.6L219.12 443.78L220.75 442.13L221.57 440.49L221.57 438.02M217.48 438.02L221.57 438.02M227.3 427.34L227.3 444.6M227.3 427.34L238.75 444.6M238.75 427.34L238.75 444.6M245.29 431.45L245.29 430.63L246.11 428.98L246.93 428.16L248.56 427.34L251.84 427.34L253.47 428.16L254.29 428.98L255.11 430.63L255.11 432.27L254.29 433.91L252.65 436.38L244.47 444.6L255.93 444.6M265.74 427.34L263.29 428.16L261.65 430.63L260.83 434.74L260.83 437.2L261.65 441.31L263.29 443.78L265.74 444.6L267.38 444.6L269.83 443.78L271.47 441.31L272.29 437.2L272.29 434.74L271.47 430.63L269.83 428.16L267.38 427.34L265.74 427.34M296.83 424.05L295.19 425.69L293.55 428.16L291.92 431.45L291.1 435.56L291.1 438.85L291.92 442.96L293.55 446.24L295.19 448.71L296.83 450.35M314 431.45L313.19 429.8L311.55 428.16L309.91 427.34L306.64 427.34L305.01 428.16L303.37 429.8L302.55 431.45L301.73 433.91L301.73 438.02L302.55 440.49L303.37 442.13L305.01 443.78L306.64 444.6L309.91 444.6L311.55 443.78L313.19 442.13L314 440.49M323.82 427.34L322.18 428.16L320.55 429.8L319.73 431.45L318.91 433.91L318.91 438.02L319.73 440.49L320.55 442.13L322.18 443.78L323.82 444.6L327.09 444.6L328.73 443.78L330.36 442.13L331.18 440.49L332 438.02L332 433.91L331.18 431.45L330.36 429.8L328.73 428.16L327.09 427.34L323.82 427.34M337.73 427.34L337.73 444.6M337.73 427.34L344.27 444.6M350.81 427.34L344.27 444.6M350.81 427.34L350.81 444.6M364.72 429.8L364.72 444.6M357.36 437.2L372.08 437.2M378.63 427.34L378.63 444.6M378.63 427.34L389.26 427.34M378.63 435.56L385.17 435.56M378.63 444.6L389.26 444.6M393.35 427.34L404.8 444.6M393.35 444.6L404.8 427.34M413.8 427.34L413.8 444.6M408.07 427.34L419.53 427.34M422.8 424.05L424.43 425.69L426.07 428.16L427.71 431.45L428.52 435.56L428.52 438.85L427.71 442.96L426.07 446.24L424.43 448.71L422.8 450.35" fill="none" stroke="#000" stroke-width="2.6" stroke-linecap="butt" stroke-linejoin="round"/>
</svg>
</body></html>
